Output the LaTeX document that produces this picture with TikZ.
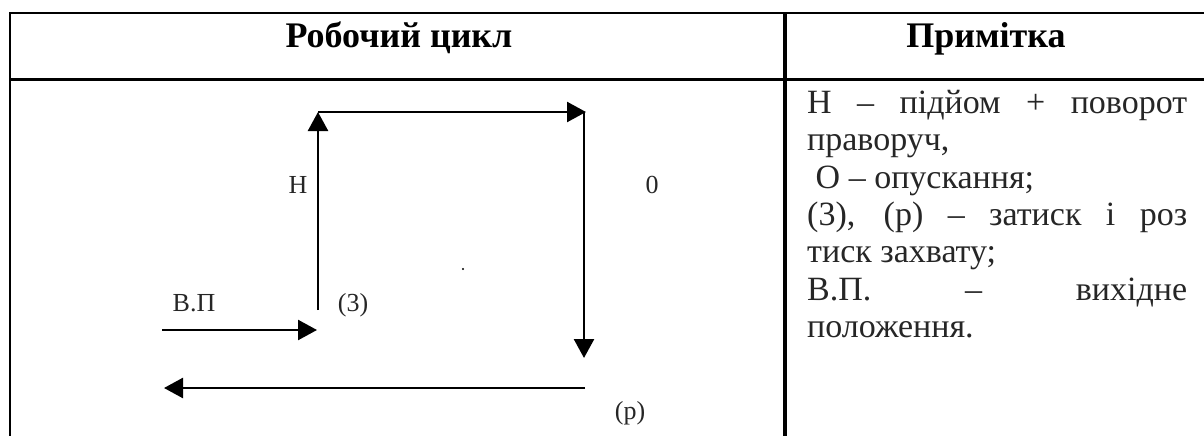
\documentclass[tikz,border=0pt]{standalone}
\usepackage{fontspec}
\setmainfont{Liberation Serif}
\usetikzlibrary{arrows.meta}
\tikzset{
  flow/.style={line width=2.5pt, -{Triangle[length=19pt,width=20pt]}},
  lbl/.style={inner sep=0pt, anchor=base, font=\fontsize{26}{30}\selectfont, text=black!85},
  head/.style={inner sep=0pt, anchor=base, font=\fontsize{36}{42}\selectfont\bfseries},
  note/.style={inner sep=0pt, anchor=base west, font=\fontsize{34}{38}\selectfont, text=black!85},
}
\begin{document}
\begin{tikzpicture}[x=1pt,y=-1pt]
\useasboundingbox (0,0) rectangle (1204,436);
% table rules
\draw[line width=1.4pt] (10,13) -- (1204,13);
\draw[line width=3pt] (10,79) -- (1204,79);
\draw[line width=2pt] (10,12.3) -- (10,436);
\draw[line width=3.5pt] (785,12.3) -- (785,436);
% header
\node[head] (h1) at (399,48) {Робочий цикл};
\node[head] (h2) at (986,48) {Примітка};
% cycle path
\coordinate (s) at (318,310);
\coordinate (tl) at (318,112);
\coordinate (tr) at (586,112);
\coordinate (rt) at (584,112);
\coordinate (rb) at (584,358);
\coordinate (bs) at (585,388);
\coordinate (be) at (164,388);
\coordinate (vs) at (162,330);
\coordinate (ve) at (317,330);
\draw[flow] (s) -- (tl);
\draw[flow] (tl) -- (tr);
\draw[flow] (rt) -- (rb);
\draw[flow] (bs) -- (be);
\draw[flow] (vs) -- (ve);
% labels
\node[lbl] (lH) at (298,193) {Н};
\node[lbl] (l0) at (652,193) {0};
\node[lbl] (lVP) at (194,311) {В.П};
\node[lbl] (l3) at (353,311) {(3)};
\node[lbl] (lp) at (630,419) {(р)};
\fill (463,269) circle (1.2pt);
% notes
\node[note] (n1) at (807,113) {\makebox[380pt][s]{Н – підйом + поворот}};
\node[note] (n2) at (807,150) {праворуч,};
\node[note] (n3) at (807,188) {\ О – опускання;};
\node[note] (n4) at (807,225) {\makebox[380pt][s]{(3), (р) – затиск і роз}};
\node[note] (n5) at (807,262) {тиск захвату;};
\node[note] (n6) at (807,300) {\makebox[380pt][s]{В.П. – вихідне}};
\node[note] (n7) at (807,337) {положення.};
\end{tikzpicture}
\end{document}
